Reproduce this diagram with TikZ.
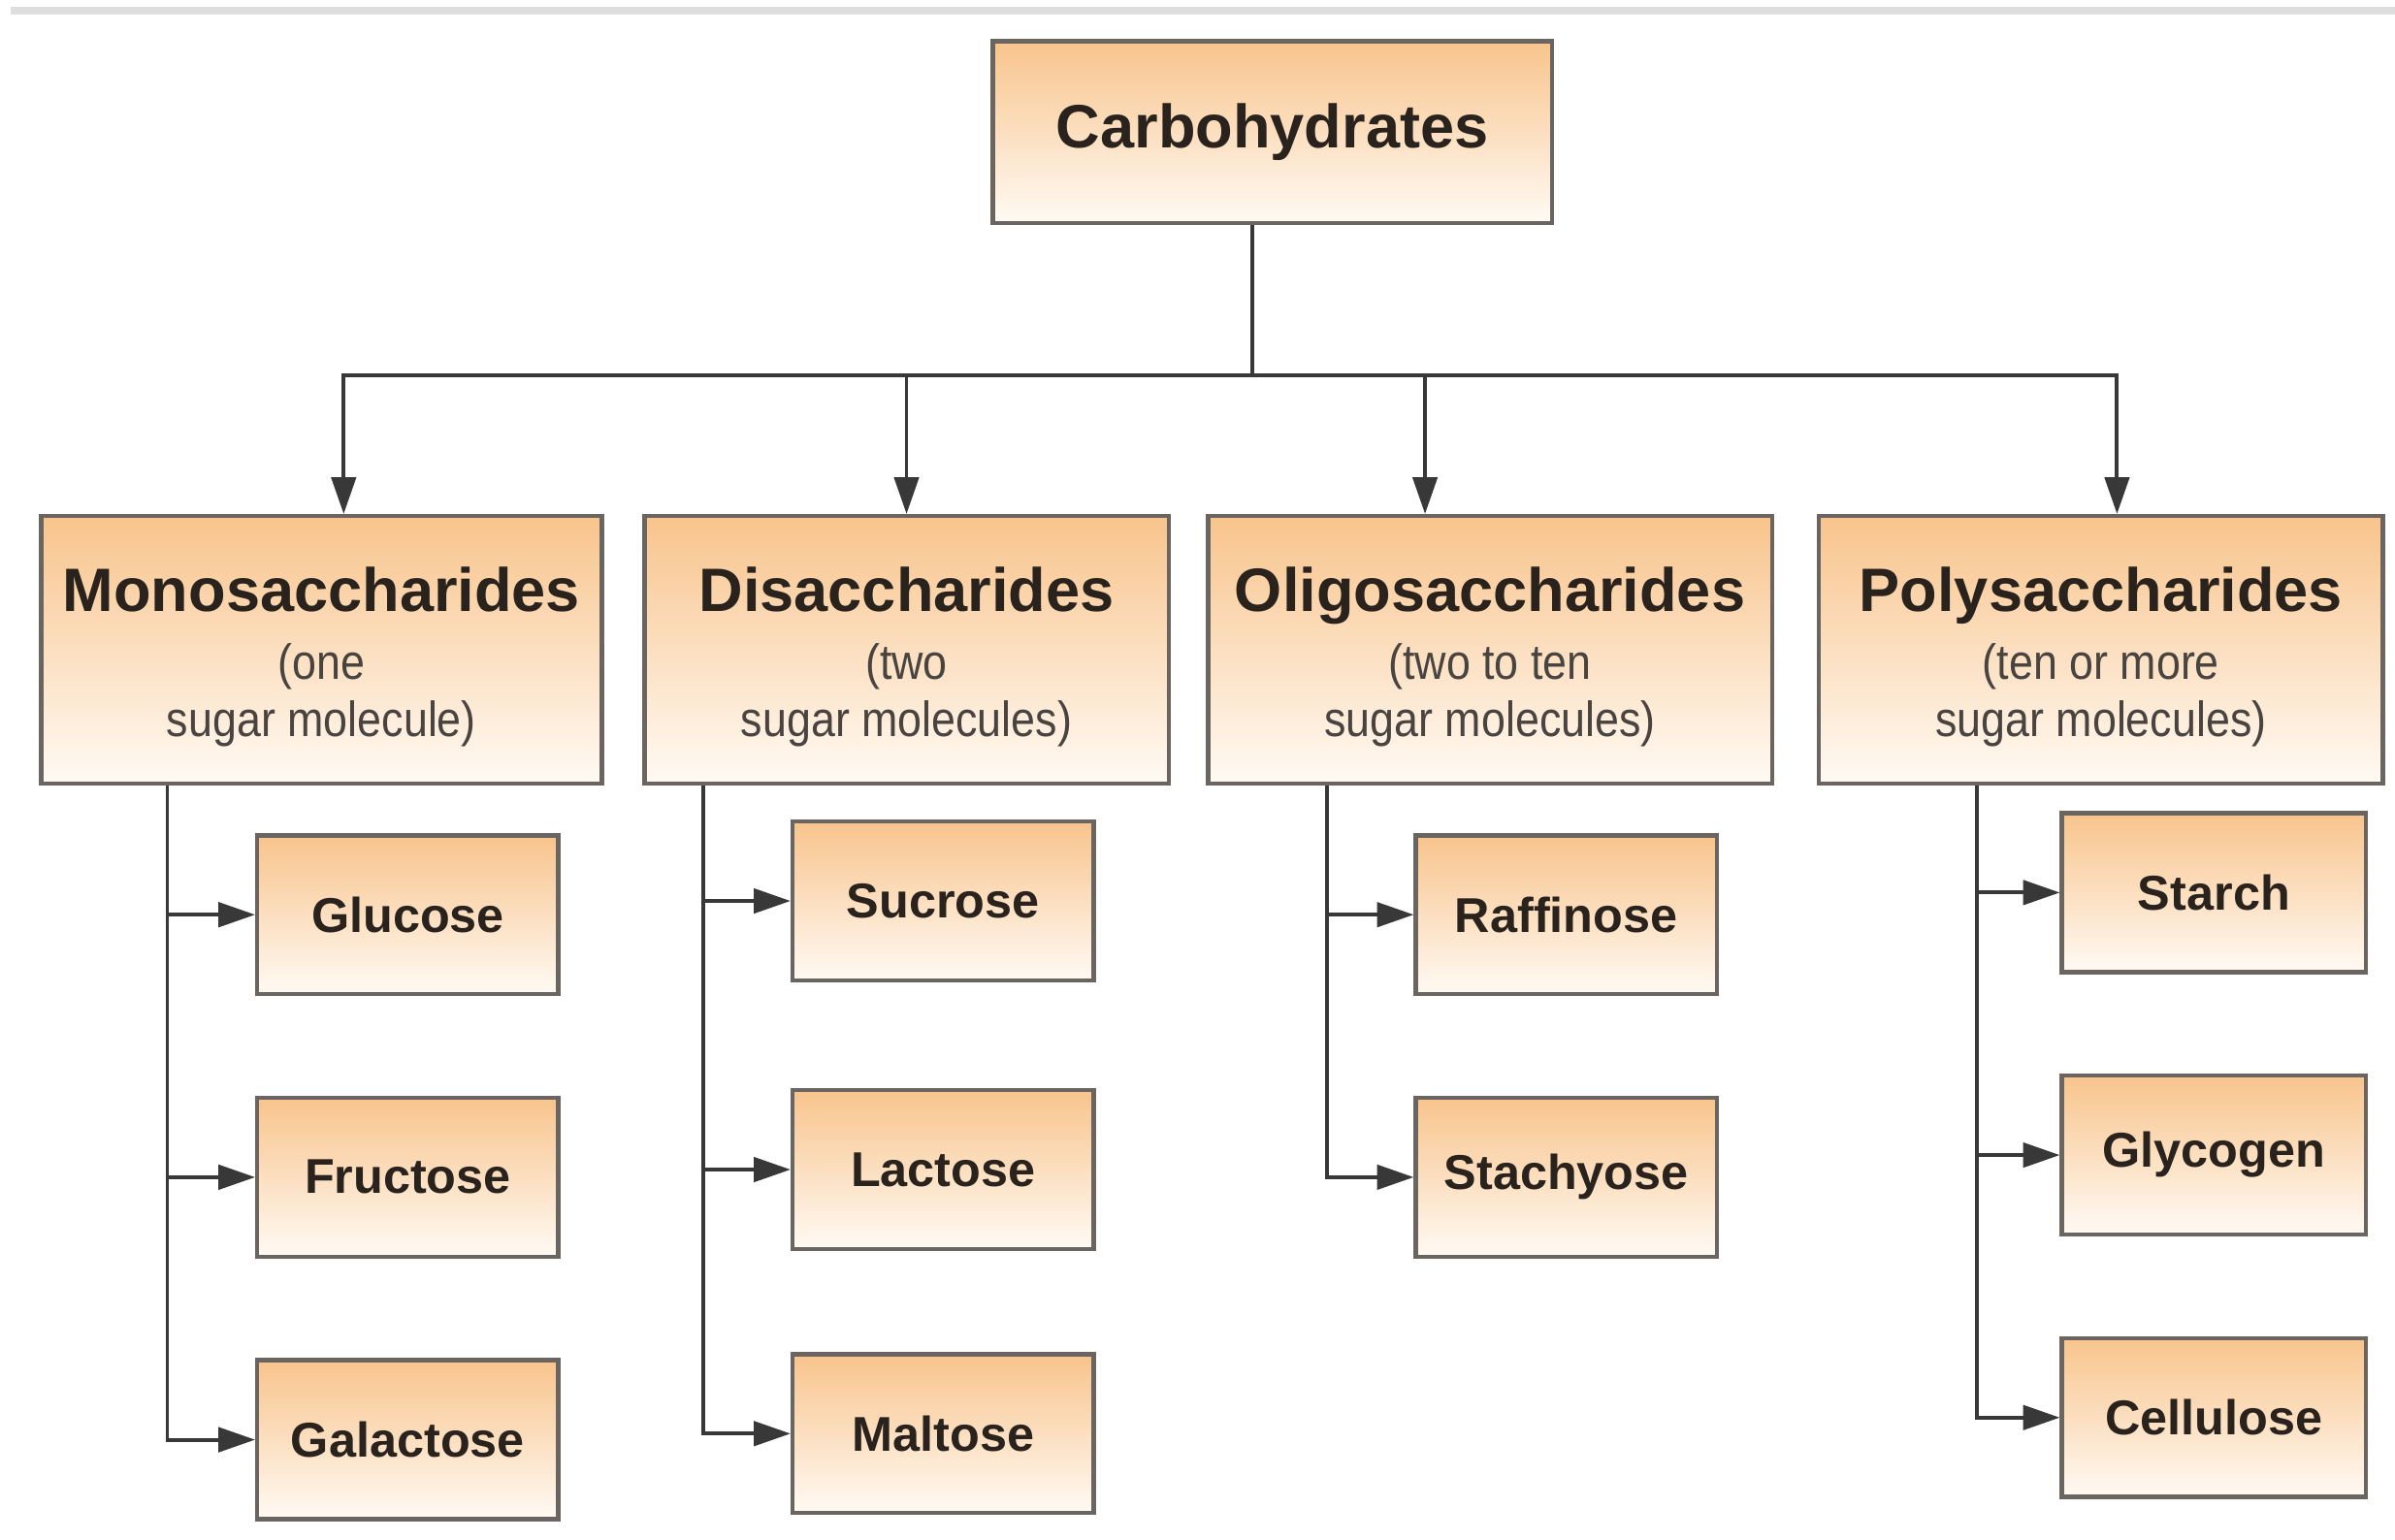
\documentclass[tikz,border=0pt]{standalone}
\usepackage{fontspec}
\setmainfont{Liberation Sans}
\newfontfamily\narrowfont[FakeStretch=0.88]{Liberation Sans}
\usetikzlibrary{positioning,arrows.meta}

\definecolor{boxtop}{HTML}{F8C48C}
\definecolor{boxbottom}{HTML}{FFFAF4}
\definecolor{boxline}{HTML}{6A6560}
\definecolor{ink}{HTML}{2A221C}
\definecolor{subink}{HTML}{4A4440}
\definecolor{wire}{HTML}{383838}
\definecolor{rulegray}{HTML}{DEDEDE}

\newcommand{\headfont}{\fontsize{11.4}{13}\selectfont\bfseries}
\newcommand{\subtext}{\narrowfont\mdseries\fontsize{9.2}{10.8}\selectfont\color{subink}}
\newcommand{\headstrut}{\rule{0pt}{11.1pt}}

\begin{document}
\begin{tikzpicture}[x=0.01cm, y=-0.01cm,
	box/.style={draw=boxline, line width=0.8pt, top color=boxtop, bottom color=boxbottom, inner sep=0pt, text=ink, align=center},
	rootbox/.style={box, minimum width=3.66cm, minimum height=1.19cm, font=\headfont},
	category/.style={box, minimum height=1.75cm, font=\headfont},
	leaf/.style={box, minimum width=1.97cm, minimum height=1.04cm, font=\fontsize{9.1}{11}\selectfont\bfseries},
	link/.style={draw=wire, line width=0.7pt},
	pointer/.style={link, -{Triangle[length=2.4mm, width=1.6mm]}},
	node distance=0.65cm
]

	\path[use as bounding box, fill=white] (0,0) rectangle (1568,1008);
	\fill[rulegray] (7,4.5) rectangle (1568,9.5);

	% Root and groups
	\node[rootbox] (carb) at (833,86.5) {Carbohydrates};
	\node[category, minimum width=3.67cm] (mono) at (210.5,425.5) {\headstrut Monosaccharides\\[-0.5pt]\subtext (one\\[-2.2pt]\subtext sugar molecule)};
	\node[category, minimum width=3.43cm] (di) at (593.5,425.5) {\headstrut Disaccharides\\[-0.5pt]\subtext (two\\[-2.2pt]\subtext sugar molecules)};
	\node[category, minimum width=3.69cm] (oligo) at (975.5,425.5) {\headstrut Oligosaccharides\\[-0.5pt]\subtext (two to ten\\[-2.2pt]\subtext sugar molecules)};
	\node[category, minimum width=3.69cm] (poly) at (1375.5,425.5) {\headstrut Polysaccharides\\[-0.5pt]\subtext (ten or more\\[-2.2pt]\subtext sugar molecules)};

	% Sugars
	\node[leaf] (glucose) at (267,599) {Glucose};
	\node[leaf, below=of glucose] (fructose) {Fructose};
	\node[leaf, below=of fructose] (galactose) {Galactose};

	\node[leaf] (sucrose) at (617.5,590) {Sucrose};
	\node[leaf, below=0.69cm of sucrose] (lactose) {Lactose};
	\node[leaf, below=0.66cm of lactose] (maltose) {Maltose};

	\node[leaf] (raffinose) at (1025.5,599) {Raffinose};
	\node[leaf, below=of raffinose] (stachyose) {Stachyose};

	\node[leaf, minimum width=1.99cm] (starch) at (1449.5,584.5) {Starch};
	\node[leaf, minimum width=1.99cm, below=of starch] (glycogen) {Glycogen};
	\node[leaf, minimum width=1.99cm, below=of glycogen] (cellulose) {Cellulose};

	% Top connectors
	\coordinate (bus) at (820,246);
	\draw[link] (carb.south -| bus) -- (bus);
	\draw[pointer] (bus) -| ([xshift=1.45mm]mono.north);
	\draw[pointer] (bus) -| (di.north);
	\draw[pointer] (bus) -| ([xshift=-4.25mm]oligo.north);
	\draw[pointer] (bus) -| ([xshift=1.05mm]poly.north);

	% Side connectors
	\draw[pointer] ([xshift=8.4mm]mono.south west) |- (glucose);
	\draw[pointer] ([xshift=8.4mm]mono.south west) |- (fructose);
	\draw[pointer] ([xshift=8.4mm]mono.south west) |- (galactose);
	\draw[pointer] ([xshift=4mm]di.south west) |- (sucrose);
	\draw[pointer] ([xshift=4mm]di.south west) |- (lactose);
	\draw[pointer] ([xshift=4mm]di.south west) |- (maltose);
	\draw[pointer] ([xshift=7.9mm]oligo.south west) |- (raffinose);
	\draw[pointer] ([xshift=7.9mm]oligo.south west) |- (stachyose);
	\draw[pointer] ([xshift=10.5mm]poly.south west) |- (starch);
	\draw[pointer] ([xshift=10.5mm]poly.south west) |- (glycogen);
	\draw[pointer] ([xshift=10.5mm]poly.south west) |- (cellulose);

\end{tikzpicture}
\end{document}
